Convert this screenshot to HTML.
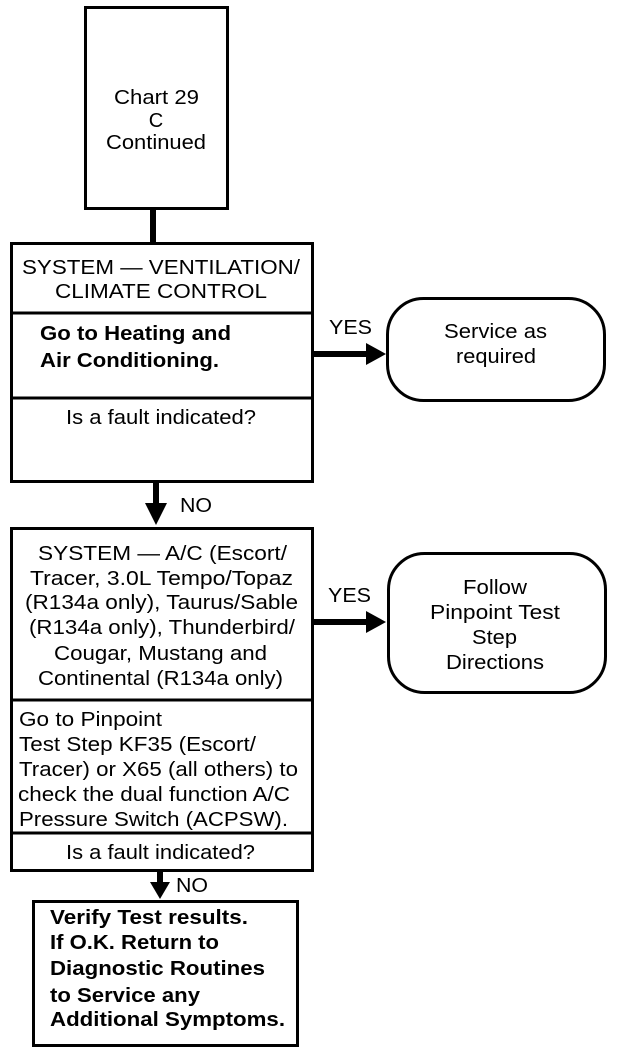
<!DOCTYPE html>
<html><head><meta charset="utf-8"><style>
html,body{margin:0;padding:0;background:#fff;}
svg{display:block;}
text{font-family:"Liberation Sans",Arial,sans-serif;font-size:20px;fill:#000;}
.b{font-weight:bold;}
</style></head><body>
<svg width="624" height="1054" viewBox="0 0 624 1054" xmlns="http://www.w3.org/2000/svg">
<g fill="none" stroke="#000" stroke-width="3">
<rect x="85.5" y="7.5" width="142" height="201"/>
<rect x="11.5" y="243.5" width="301" height="238"/>
<line x1="11" y1="313" x2="313" y2="313"/>
<line x1="11" y1="398" x2="313" y2="398"/>
<rect x="387.5" y="298.5" width="217" height="102" rx="36"/>
<rect x="11.5" y="528.5" width="301" height="342"/>
<line x1="11" y1="700" x2="313" y2="700"/>
<line x1="11" y1="833" x2="313" y2="833"/>
<rect x="388.5" y="553.5" width="217" height="139" rx="36"/>
<rect x="33.5" y="901.5" width="264" height="144"/>
</g>
<g stroke="#000" stroke-width="6">
<line x1="153" y1="209" x2="153" y2="243"/>
<line x1="313" y1="354" x2="370" y2="354"/>
<line x1="156" y1="482" x2="156" y2="506"/>
<line x1="313" y1="622" x2="370" y2="622"/>
<line x1="160" y1="871" x2="160" y2="884"/>
</g>
<g fill="#000">
<polygon points="366,343 386,354 366,365"/>
<polygon points="145,503 167,503 156,525"/>
<polygon points="366,611 386,622 366,633"/>
<polygon points="150,882 170,882 160,899"/>
</g>
<g>
<text x="114" y="104" textLength="85" lengthAdjust="spacingAndGlyphs">Chart 29</text>
<text x="156" y="127" text-anchor="middle">C</text>
<text x="106" y="149" textLength="100" lengthAdjust="spacingAndGlyphs">Continued</text>
<text x="22" y="274" textLength="278" lengthAdjust="spacingAndGlyphs">SYSTEM — VENTILATION/</text>
<text x="55" y="298" textLength="212" lengthAdjust="spacingAndGlyphs">CLIMATE CONTROL</text>
<text class="b" x="40" y="340" textLength="191" lengthAdjust="spacingAndGlyphs">Go to Heating and</text>
<text class="b" x="40" y="367" textLength="179" lengthAdjust="spacingAndGlyphs">Air Conditioning.</text>
<text x="66" y="424" textLength="190" lengthAdjust="spacingAndGlyphs">Is a fault indicated?</text>
<text x="329" y="334" textLength="43" lengthAdjust="spacingAndGlyphs">YES</text>
<text x="444" y="338" textLength="103" lengthAdjust="spacingAndGlyphs">Service as</text>
<text x="456" y="363" textLength="80" lengthAdjust="spacingAndGlyphs">required</text>
<text x="180" y="512" textLength="32" lengthAdjust="spacingAndGlyphs">NO</text>
<text x="38" y="560" textLength="249" lengthAdjust="spacingAndGlyphs">SYSTEM — A/C (Escort/</text>
<text x="30" y="585" textLength="263" lengthAdjust="spacingAndGlyphs">Tracer, 3.0L Tempo/Topaz</text>
<text x="25" y="609" textLength="273" lengthAdjust="spacingAndGlyphs">(R134a only), Taurus/Sable</text>
<text x="29" y="634" textLength="266" lengthAdjust="spacingAndGlyphs">(R134a only), Thunderbird/</text>
<text x="54" y="660" textLength="213" lengthAdjust="spacingAndGlyphs">Cougar, Mustang and</text>
<text x="38" y="685" textLength="245" lengthAdjust="spacingAndGlyphs">Continental (R134a only)</text>
<text x="328" y="602" textLength="43" lengthAdjust="spacingAndGlyphs">YES</text>
<text x="463" y="594" textLength="64" lengthAdjust="spacingAndGlyphs">Follow</text>
<text x="430" y="619" textLength="130" lengthAdjust="spacingAndGlyphs">Pinpoint Test</text>
<text x="472" y="644" textLength="45" lengthAdjust="spacingAndGlyphs">Step</text>
<text x="446" y="669" textLength="98" lengthAdjust="spacingAndGlyphs">Directions</text>
<text x="19" y="726" textLength="143" lengthAdjust="spacingAndGlyphs">Go to  Pinpoint</text>
<text x="19" y="751" textLength="237" lengthAdjust="spacingAndGlyphs">Test Step KF35 (Escort/</text>
<text x="19" y="776" textLength="279" lengthAdjust="spacingAndGlyphs">Tracer) or X65 (all others) to</text>
<text x="18" y="801" textLength="272" lengthAdjust="spacingAndGlyphs">check the dual function A/C</text>
<text x="19" y="826" textLength="269" lengthAdjust="spacingAndGlyphs">Pressure Switch (ACPSW).</text>
<text x="66" y="859" textLength="189" lengthAdjust="spacingAndGlyphs">Is a fault indicated?</text>
<text x="176" y="892" textLength="32" lengthAdjust="spacingAndGlyphs">NO</text>
<text class="b" x="50" y="924" textLength="198" lengthAdjust="spacingAndGlyphs">Verify Test results.</text>
<text class="b" x="50" y="949" textLength="169" lengthAdjust="spacingAndGlyphs">If O.K. Return to</text>
<text class="b" x="50" y="975" textLength="215" lengthAdjust="spacingAndGlyphs">Diagnostic Routines</text>
<text class="b" x="50" y="1002" textLength="150" lengthAdjust="spacingAndGlyphs">to Service any</text>
<text class="b" x="50" y="1026" textLength="235" lengthAdjust="spacingAndGlyphs">Additional Symptoms.</text>
</g>
</svg>
</body></html>
